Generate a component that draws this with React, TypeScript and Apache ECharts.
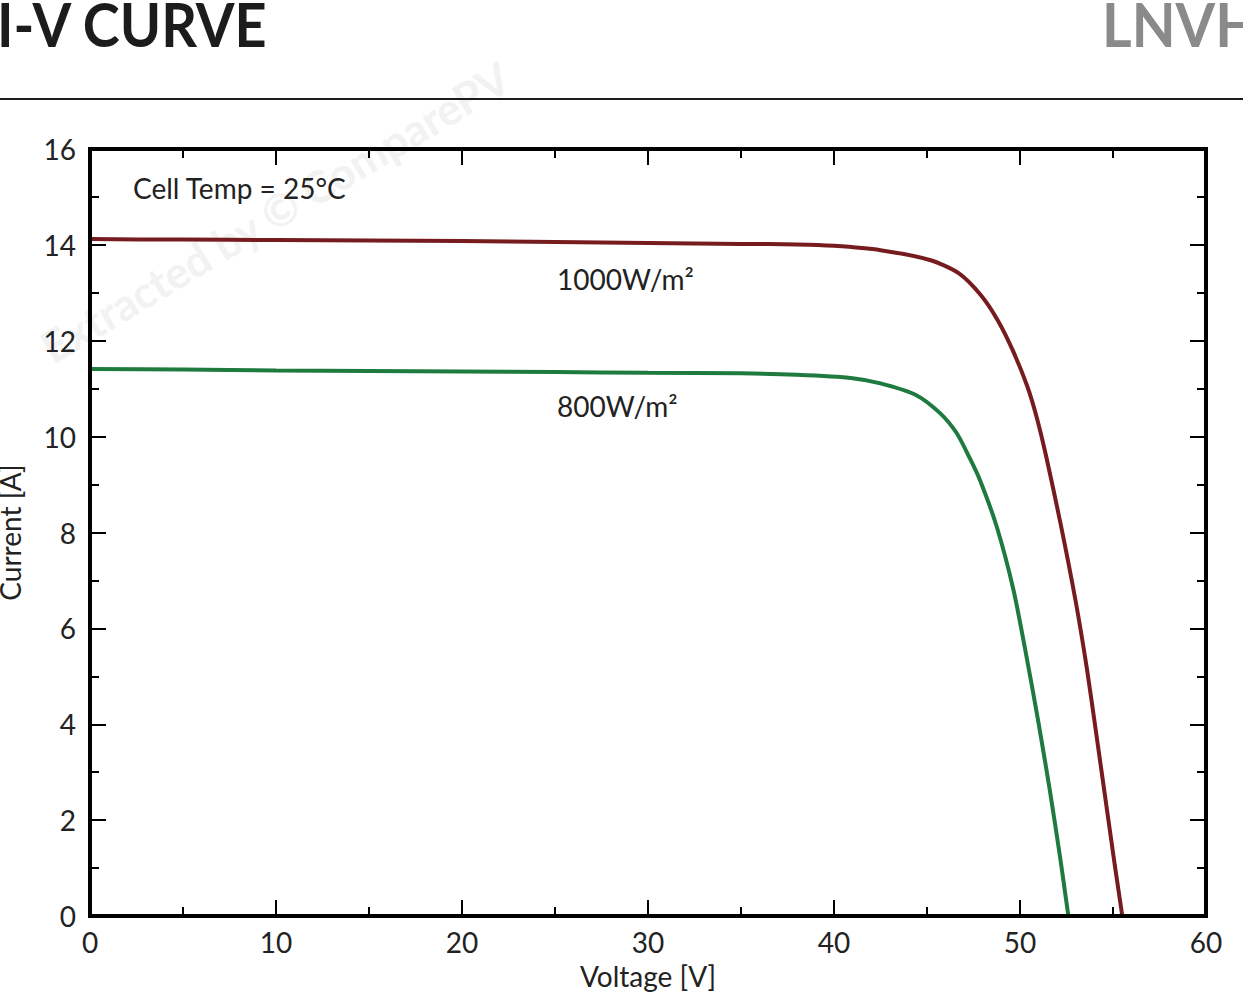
import React, { useEffect, useRef } from "react";
import * as echarts from "echarts";

const voltage1000 = [0, 5, 10, 15, 20, 25, 30, 35, 38, 40, 42.5, 45.2, 46.7, 47.9, 48.8, 49.6, 50.4, 50.9, 51.4, 52.2, 53.0, 53.6, 54.1, 54.7, 55.1, 55.5];
const current1000 = [14.12, 14.11, 14.10, 14.09, 14.08, 14.06, 14.04, 14.02, 14.01, 13.98, 13.89, 13.68, 13.41, 12.95, 12.43, 11.81, 11.04, 10.40, 9.60, 8.15, 6.55, 5.15, 3.80, 2.15, 1.05, 0];

const voltage800 = [0, 5, 10, 15, 20, 25, 30, 35, 38, 41, 42.5, 44.4, 45.7, 46.6, 47.3, 47.85, 48.75, 49.65, 50.35, 51.0, 51.6, 52.15, 52.6];
const current800 = [11.41, 11.40, 11.38, 11.37, 11.36, 11.35, 11.33, 11.32, 11.29, 11.22, 11.11, 10.87, 10.49, 10.07, 9.55, 9.09, 8.12, 6.80, 5.41, 4.02, 2.63, 1.24, 0];

const seriesNames = ["1000W/m²", "800W/m²"];
const title = "I-V CURVE";
const brand = "LNVH";
const tempNote = "Cell Temp = 25°C";
const xName = "Voltage [V]";
const yName = "Current [A]";
const watermark = "Extracted by © ComparePV";

const FONT = "Lato, 'Noto Sans', sans-serif";

export default function App() {
  const ref = useRef<HTMLDivElement>(null);
  useEffect(() => {
    if (!ref.current) return;
    const chart = echarts.init(ref.current, null, { renderer: "svg" });
    const pairs = (xs: number[], ys: number[]) => xs.map((x, i) => [x, ys[i]]);
    const ticks = {
      axisLine: { show: false, onZero: false },
      axisTick: { show: true, inside: true, length: 16, lineStyle: { color: "#000", width: 2 } },
      minorTick: { show: true, splitNumber: 2, length: 9, lineStyle: { color: "#000", width: 2 } },
      splitLine: { show: false },
      minorSplitLine: { show: false },
    };
    const labelStyle = { fontSize: 28, color: "#222", fontFamily: FONT };
    const xBase = { type: "value", min: 0, max: 60, interval: 10 };
    const yBase = { type: "value", min: 0, max: 16, interval: 2 };
    chart.setOption({
      animation: false,
      backgroundColor: "#fff",
      grid: {
        left: 90,
        right: 37,
        top: 149,
        bottom: 76,
        show: true,
        borderColor: "#000",
        borderWidth: 4,
        backgroundColor: "transparent",
        outerBoundsMode: "none",
        containLabel: false,
        z: 3,
      },
      xAxis: [
        {
          ...xBase,
          position: "bottom",
          ...ticks,
          axisLabel: { ...labelStyle, margin: 12 },
          name: xName,
          nameLocation: "middle",
          nameGap: 46,
          nameTextStyle: { ...labelStyle },
        },
        { ...xBase, position: "top", ...ticks, axisLabel: { show: false } },
      ],
      yAxis: [
        {
          ...yBase,
          position: "left",
          ...ticks,
          axisLabel: { ...labelStyle, margin: 14 },
          name: yName,
          nameLocation: "middle",
          nameGap: 66,
          nameTextStyle: { ...labelStyle },
        },
        { ...yBase, position: "right", ...ticks, axisLabel: { show: false } },
      ],
      series: [
        {
          name: seriesNames[0],
          type: "line",
          xAxisIndex: 0,
          yAxisIndex: 0,
          data: pairs(voltage1000, current1000),
          showSymbol: false,
          smooth: 0.25,
          lineStyle: { color: "#761c1f", width: 4 },
          itemStyle: { color: "#761c1f" },
          z: 2,
        },
        {
          name: seriesNames[1],
          type: "line",
          xAxisIndex: 0,
          yAxisIndex: 0,
          data: pairs(voltage800, current800),
          showSymbol: false,
          smooth: 0.25,
          lineStyle: { color: "#1e7a3e", width: 4 },
          itemStyle: { color: "#1e7a3e" },
          z: 2,
        },
      ],
      graphic: [
        {
          type: "text",
          x: 275,
          y: 212,
          z: -10,
          rotation: (31 * Math.PI) / 180,
          style: {
            text: watermark,
            fill: "#f2f2f2",
            font: `bold 44px ${FONT}`,
            align: "center",
            verticalAlign: "middle",
          },
          silent: true,
        },
        {
          type: "text",
          x: -3,
          y: -8,
          scaleX: 0.9,
          style: { text: title, fill: "#1c1c1c", font: `bold 62px ${FONT}` },
        },
        {
          type: "text",
          x: 1102,
          y: -8,
          scaleX: 0.92,
          style: { text: brand, fill: "#8a8a8a", font: `bold 62px ${FONT}` },
        },
        {
          type: "rect",
          shape: { x: 0, y: 98, width: 1243, height: 2 },
          style: { fill: "#1c1c1c" },
        },
        {
          type: "text",
          left: 133,
          top: 174,
          style: { text: tempNote, fill: "#222", font: `28px ${FONT}` },
        },
        {
          type: "text",
          left: 557,
          top: 265,
          style: { text: seriesNames[0], fill: "#222", font: `28px ${FONT}` },
        },
        {
          type: "text",
          left: 557,
          top: 392,
          style: { text: seriesNames[1], fill: "#222", font: `28px ${FONT}` },
        },
      ],
    });
    return () => chart.dispose();
  }, []);
  return (
    <div
      ref={ref}
      style={{ position: "fixed", left: 0, top: 0, width: 1243, height: 992, background: "#fff" }}
    />
  );
}
